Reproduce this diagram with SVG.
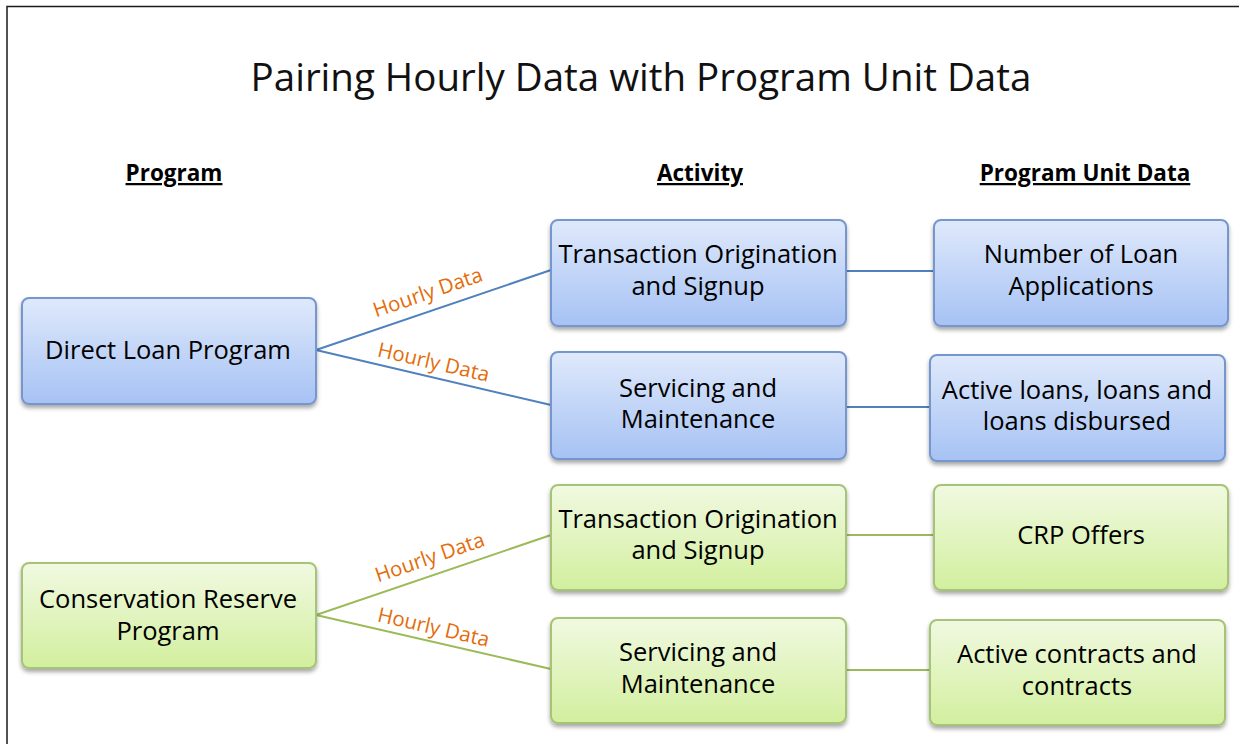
<svg xmlns="http://www.w3.org/2000/svg" width="1239" height="744" viewBox="0 0 1239 744">
  <defs>
    <linearGradient id="gBlue" x1="0" y1="0" x2="0" y2="1">
      <stop offset="0" stop-color="#dfe9fb"/>
      <stop offset="1" stop-color="#a6c2f4"/>
    </linearGradient>
    <linearGradient id="gGreen" x1="0" y1="0" x2="0" y2="1">
      <stop offset="0" stop-color="#f1f9e1"/>
      <stop offset="1" stop-color="#d2ef9e"/>
    </linearGradient>
    <filter id="shadow" x="-10%" y="-10%" width="120%" height="130%">
      <feDropShadow dx="0" dy="3" stdDeviation="2" flood-color="#000" flood-opacity="0.35"/>
    </filter>
  </defs>
  <style>
    .frame { fill: none; stroke: #1a1a1a; stroke-width: 1.5; }
    .title { font-family: "Open Sans", "Noto Sans", sans-serif; font-size: 38.5px; fill: #111; text-anchor: middle; }
    .head { font-family: "Open Sans", "Noto Sans", sans-serif; font-size: 22.5px; font-weight: bold; fill: #000; text-anchor: middle; text-decoration: underline; }
    .blue { fill: url(#gBlue); stroke: #7696cf; stroke-width: 2; filter: url(#shadow); }
    .green { fill: url(#gGreen); stroke: #a5c474; stroke-width: 2; filter: url(#shadow); }
    .lbl { font-family: "Open Sans", "Noto Sans", sans-serif; font-size: 25.5px; fill: #000; text-anchor: middle; }
    .edge-b { stroke: #4f81bd; stroke-width: 2; fill: none; }
    .edge-g { stroke: #9bbb59; stroke-width: 2; fill: none; }
    .hd { font-family: "Open Sans", "Noto Sans", sans-serif; font-size: 20.5px; fill: #e46c0a; text-anchor: middle; }
  </style>

  <rect width="1239" height="744" fill="#ffffff"/>
  <path class="frame" d="M7,744 V6.5 H1239"/>

  <text class="title" x="641" y="91">Pairing Hourly Data with Program Unit Data</text>
  <text class="head" x="174" y="181">Program</text>
  <text class="head" x="700" y="181">Activity</text>
  <text class="head" x="1085" y="181">Program Unit Data</text>

  <!-- connectors -->
  <g id="connectors">
    <line class="edge-b" x1="316" y1="350" x2="551" y2="270"/>
    <line class="edge-b" x1="316" y1="350" x2="551" y2="405"/>
    <line class="edge-b" x1="846" y1="271" x2="934" y2="271"/>
    <line class="edge-b" x1="846" y1="407" x2="930" y2="407"/>
    <line class="edge-g" x1="316" y1="615" x2="551" y2="535"/>
    <line class="edge-g" x1="316" y1="615" x2="551" y2="669"/>
    <line class="edge-g" x1="846" y1="535" x2="934" y2="535"/>
    <line class="edge-g" x1="846" y1="670" x2="930" y2="670"/>
    <text class="hd" transform="translate(430,299) rotate(-19)">Hourly Data</text>
    <text class="hd" transform="translate(432,369) rotate(13)">Hourly Data</text>
    <text class="hd" transform="translate(432,564) rotate(-19)">Hourly Data</text>
    <text class="hd" transform="translate(432,634) rotate(13)">Hourly Data</text>
  </g>

  <!-- programs -->
  <g id="direct-loan">
    <rect class="blue" x="22" y="298" width="294" height="106" rx="7"/>
    <text class="lbl" x="168" y="359">Direct Loan Program</text>
  </g>
  <g id="conservation-reserve">
    <rect class="green" x="22" y="563" width="294" height="105" rx="7"/>
    <text class="lbl" x="168" y="608">Conservation Reserve</text>
    <text class="lbl" x="168" y="640">Program</text>
  </g>

  <!-- activities -->
  <g id="dl-origination">
    <rect class="blue" x="551" y="220" width="295" height="106" rx="7"/>
    <text class="lbl" x="698" y="263">Transaction Origination</text>
    <text class="lbl" x="698" y="295">and Signup</text>
  </g>
  <g id="dl-servicing">
    <rect class="blue" x="551" y="352" width="295" height="107" rx="7"/>
    <text class="lbl" x="698" y="397">Servicing and</text>
    <text class="lbl" x="698" y="428">Maintenance</text>
  </g>
  <g id="crp-origination">
    <rect class="green" x="551" y="485" width="295" height="105" rx="7"/>
    <text class="lbl" x="698" y="528">Transaction Origination</text>
    <text class="lbl" x="698" y="559">and Signup</text>
  </g>
  <g id="crp-servicing">
    <rect class="green" x="551" y="618" width="295" height="105" rx="7"/>
    <text class="lbl" x="698" y="661">Servicing and</text>
    <text class="lbl" x="698" y="693">Maintenance</text>
  </g>

  <!-- program unit data -->
  <g id="dl-applications">
    <rect class="blue" x="934" y="220" width="294" height="106" rx="7"/>
    <text class="lbl" x="1081" y="263">Number of Loan</text>
    <text class="lbl" x="1081" y="295">Applications</text>
  </g>
  <g id="dl-active-loans">
    <rect class="blue" x="930" y="355" width="295" height="106" rx="7"/>
    <text class="lbl" x="1077" y="399">Active loans, loans and</text>
    <text class="lbl" x="1077" y="430">loans disbursed</text>
  </g>
  <g id="crp-offers">
    <rect class="green" x="934" y="485" width="294" height="105" rx="7"/>
    <text class="lbl" x="1081" y="544">CRP Offers</text>
  </g>
  <g id="crp-contracts">
    <rect class="green" x="930" y="620" width="295" height="105" rx="7"/>
    <text class="lbl" x="1077" y="663">Active contracts and</text>
    <text class="lbl" x="1077" y="695">contracts</text>
  </g>
</svg>
